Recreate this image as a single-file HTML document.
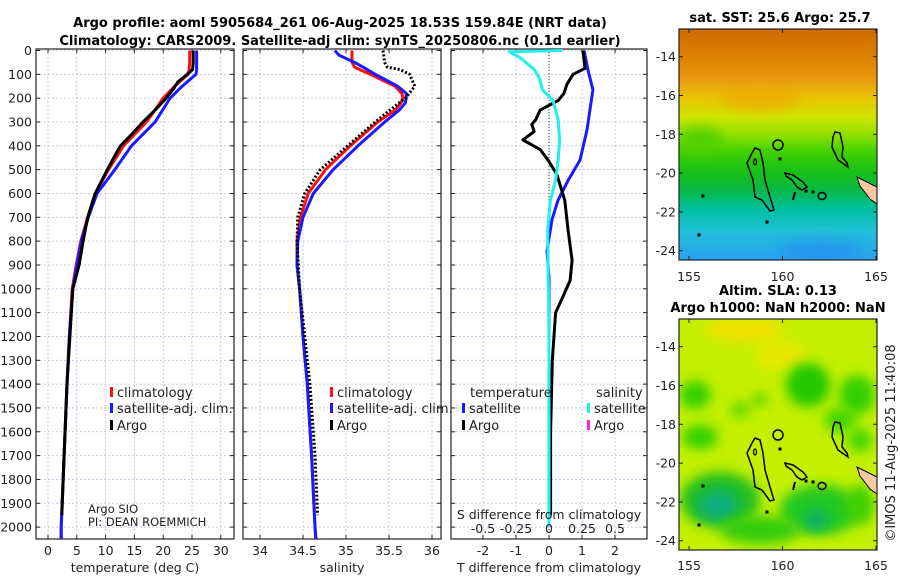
<!DOCTYPE html>
<html><head><meta charset="utf-8"><style>
body{margin:0;background:#fff;width:900px;height:580px;overflow:hidden}
svg{display:block}
text{font-family:"DejaVu Sans","Liberation Sans",sans-serif;fill:#222}
.t{font-weight:bold;font-size:13px;fill:#000}
.tk{font-size:12.5px}
.lg{font-size:13px}
</style></head><body>
<svg id="c" width="900" height="580" viewBox="0 0 900 580">
<defs>
<linearGradient id="sstg" x1="0" y1="0" x2="0" y2="1">
<stop offset="0" stop-color="#cf6a00"/><stop offset="0.12" stop-color="#de8000"/>
<stop offset="0.22" stop-color="#e89a10"/><stop offset="0.30" stop-color="#e8c400"/>
<stop offset="0.38" stop-color="#d0e400"/><stop offset="0.46" stop-color="#90e000"/>
<stop offset="0.53" stop-color="#40d000"/><stop offset="0.62" stop-color="#18c018"/>
<stop offset="0.70" stop-color="#08b848"/><stop offset="0.78" stop-color="#00c0a0"/>
<stop offset="0.87" stop-color="#20c0d8"/><stop offset="1" stop-color="#2aa0f0"/>
</linearGradient>
<filter id="bl" x="-50%" y="-50%" width="200%" height="200%"><feGaussianBlur stdDeviation="6"/></filter>
<clipPath id="m1c"><rect x="679" y="29" width="198" height="231"/></clipPath>
<clipPath id="m2c"><rect x="679" y="319" width="198" height="231"/></clipPath>
</defs>
<text class="t" x="340" y="27" text-anchor="middle">Argo profile: aoml 5905684_261 06-Aug-2025 18.53S 159.84E (NRT data)</text>
<text class="t" x="340" y="45" text-anchor="middle">Climatology: CARS2009. Satellite-adj clim: synTS_20250806.nc (0.1d earlier)</text>
<g id="g"></g>
</svg>
<script>
// ---- profile data (depth in m) ----
const tempDepth = [0,50,80,100,150,200,300,400,500,600,700,800,900,1000,1200,1400,1700,2000,2050];
const tempClim  = [24.6,24.6,24.5,24.3,22.0,20.0,17.1,13.1,10.5,8.2,6.9,5.7,4.9,4.2,3.7,3.3,2.8,2.3,2.3];
const tempSat   = [25.8,25.8,25.8,25.7,23.3,21.2,18.6,14.5,11.6,8.5,7.0,5.8,5.0,4.3,3.7,3.3,2.8,2.3,2.3];
const argoDepth = [0,50,80,100,130,160,200,250,300,350,400,420,460,500,600,700,800,900,1000,1200,1400,1700,1950];
const argoTemp  = [25.2,25.2,25.1,24.2,22.6,21.8,20.5,18.6,16.5,14.6,12.6,12.1,11.2,10.3,8.2,6.9,6.1,5.4,4.3,3.8,3.3,2.8,2.4];
const salDepth  = [0,20,50,70,100,150,180,200,220,250,300,400,500,600,700,800,900,1000,1200,1400,1700,2000,2050];
const salClim   = [35.07,35.07,35.07,35.10,35.28,35.57,35.65,35.66,35.64,35.57,35.37,35.05,34.76,34.56,34.47,34.43,34.43,34.46,34.50,34.55,34.60,34.64,34.65];
const salSat    = [34.87,34.92,35.10,35.20,35.34,35.60,35.70,35.70,35.69,35.62,35.45,35.14,34.85,34.62,34.50,34.44,34.43,34.46,34.50,34.55,34.60,34.64,34.65];
const argoSDepth= [0,50,70,80,100,150,200,250,300,400,500,600,700,800,1000,1400,1700,1950];
const argoSal   = [35.43,35.45,35.48,35.63,35.74,35.80,35.69,35.51,35.34,35.02,34.70,34.52,34.44,34.43,34.46,34.58,34.64,34.67];
const dDepthT   = [0,80,165,333,460,545,630,710,840,950,1200,1600,2000];
const dTsat     = [1.06,1.18,1.33,1.15,0.94,0.58,0.27,0.09,-0.06,0,0,0,0];
const dDepthA   = [0,75,100,140,180,210,250,290,310,340,375,415,460,520,630,755,880,965,1040,1100,1300,1600,1950];
const dTargo    = [1.03,1.09,0.73,0.55,0.45,0.28,-0.27,-0.40,-0.52,-0.45,-0.79,-0.27,-0.03,0.24,0.48,0.58,0.70,0.64,0.40,0.20,0.10,0.05,0.05];
const dDepthS   = [0,5,30,80,120,165,210,290,375,460,545,630,760,1200,2000];
const dSsat     = [0.10,-0.30,-0.22,-0.11,-0.07,-0.05,0.03,0.07,0.08,0.07,0.05,0.01,-0.01,0,0];
const tempTicks = [0,5,10,15,20,25,30];
const salTicks  = [34,34.5,35,35.5,36];
const dTTicks   = [-2,-1,0,1,2];
const dSTicks   = [-0.5,-0.25,0,0.25,0.5];
const depthTicks= [0,100,200,300,400,500,600,700,800,900,1000,1100,1200,1300,1400,1500,1600,1700,1800,1900,2000];
const lonTicks  = [155,160,165];
const latTicks  = [-14,-16,-18,-20,-22,-24];

const NS='http://www.w3.org/2000/svg';
const G=document.getElementById('g');
function el(tag,attrs,parent){const e=document.createElementNS(NS,tag);for(const k in attrs)e.setAttribute(k,attrs[k]);(parent||G).appendChild(e);return e;}
function txt(x,y,s,cls,anchor){const t=el('text',{x:x,y:y,'class':cls||'tk','text-anchor':anchor||'middle'});t.textContent=s;return t;}
const TOP=49,BOT=539;
const depthY=d=>50.5+d*0.2383;
const tempX=t=>48+t*5.76;
const salX=s=>260+(s-34)*86;
const dTX=d=>549+d*33;
const dSX=d=>549+d*132;
const lonX1=l=>689+(l-155)*18.7;
const latY1=l=>56.7+(-14-l)*19.4;
const latY2=l=>346.7+(-14-l)*19.4;

function panel(x0,x1,name){
  const gr=el('g',{});
  
  
  depthTicks.forEach(d=>{const y=depthY(d);
    el('line',{x1:x0,x2:x1,y1:y,y2:y,stroke:'#b8c0dc','stroke-width':0.8,'stroke-dasharray':'2 2'},gr);
    el('line',{x1:x0,x2:x0+4,y1:y,y2:y,stroke:'#222'},gr);
    el('line',{x1:x1-4,x2:x1,y1:y,y2:y,stroke:'#222'},gr);});
  return gr;
}
function vgrid(gr,xs,x0){xs.forEach(x=>{
  el('line',{x1:x,x2:x,y1:TOP,y2:BOT,stroke:'#b8c0dc','stroke-width':0.8,'stroke-dasharray':'2 2'},gr);
  el('line',{x1:x,x2:x,y1:TOP,y2:TOP+4,stroke:'#222'},gr);
  el('line',{x1:x,x2:x,y1:BOT-4,y2:BOT,stroke:'#222'},gr);});}
function frame(gr,x0,x1){el('rect',{x:x0,y:TOP,width:x1-x0,height:BOT-TOP,fill:'none',stroke:'#222','stroke-width':1.2},gr);}
function line(xs,ys,fx,color,w,name,dash){
  const pts=xs.map((v,i)=>fx(v).toFixed(1)+','+depthY(ys[i]).toFixed(1)).join(' ');
  const p=el('polyline',{points:pts,fill:'none',stroke:color,'stroke-width':w,'stroke-linejoin':'round'});
  if(dash)p.setAttribute('stroke-dasharray',dash);
  
  
  return p;
}
function legendItem(x,y,color,label,name){
  const g=el('g',{});
  
  
  el('rect',{x:x,y:y-10,width:3,height:10,fill:color},g);
  const t=el('text',{x:x+7,y:y,'class':'lg'},g);t.textContent=label;
}
// Panel 1 temperature
const p1=panel(36,234,'temperature-panel');
vgrid(p1,tempTicks.map(tempX));
depthTicks.forEach(d=>{const t=txt(32,depthY(d)+4.5,String(d),'tk','end');
  });
tempTicks.forEach(v=>txt(tempX(v),555,String(v)));
txt(135,572,'temperature (deg C)');
line(tempClim,tempDepth,tempX,'#ff1010',3,'temp-climatology-line');
line(tempSat,tempDepth,tempX,'#1a1aff',3,'temp-satellite-line');
line(argoTemp,argoDepth,tempX,'#000',3,'temp-argo-line');
frame(p1,36,234);
legendItem(110,397,'#ff1010','climatology','legend-climatology');
legendItem(110,413,'#1a1aff','satellite-adj. clim.','legend-satellite-adj');
legendItem(110,430,'#000','Argo','legend-argo');
txt(88,513,'Argo SIO','lg','start').setAttribute('style','font-size:11.5px');
txt(88,526,'PI: DEAN ROEMMICH','lg','start').setAttribute('style','font-size:11.5px');
// Panel 2 salinity
const p2=panel(243,441,'salinity-panel');
vgrid(p2,salTicks.map(salX));
salTicks.forEach(v=>txt(salX(v),555,String(v)));
txt(342,572,'salinity');
line(salClim,salDepth,salX,'#ff1010',3,'sal-climatology-line');
line(salSat,salDepth,salX,'#1a1aff',3,'sal-satellite-line');
line(argoSal,argoSDepth,salX,'#000',3,'sal-argo-line','2 2');
frame(p2,243,441);
legendItem(330,397,'#ff1010','climatology','legend-climatology-2');
legendItem(330,413,'#1a1aff','satellite-adj. clim.','legend-satellite-adj-2');
legendItem(330,430,'#000','Argo','legend-argo-2');
// Panel 3 differences
const p3=panel(451,647,'difference-panel');
vgrid(p3,dTTicks.map(dTX));
el('line',{x1:549,x2:549,y1:TOP,y2:BOT,stroke:'#333','stroke-width':1,'stroke-dasharray':'1 2'},p3);
dTTicks.forEach(v=>txt(dTX(v),555,String(v)));
txt(549,572,'T difference from climatology');
line(dTsat,dDepthT,dTX,'#1a1aff',3,'t-diff-satellite-line');
line(dTargo,dDepthA,dTX,'#000',3,'t-diff-argo-line');
line(dSsat,dDepthS,dSX,'#22eeee',3,'s-diff-satellite-line');
frame(p3,451,647);
txt(549,519,'S difference from climatology');
dSTicks.forEach(v=>txt(dSX(v),533,String(v)));
txt(470,397,'temperature','lg','start');
txt(596,397,'salinity','lg','start');
legendItem(462,413,'#1a1aff','satellite','legend-t-satellite');
legendItem(462,430,'#000','Argo','legend-t-argo');
legendItem(587,413,'#22eeee','satellite','legend-s-satellite');
legendItem(587,430,'#ff22ee','Argo','legend-s-argo');

// Maps
function coast(g,dy){
  const polys=[
   [[755,148],[760,150],[763,163],[765,180],[770,197],[774,210],[770,211],[762,200],[755,197],[753,180],[747,163],[752,153]],
   [[785,173],[793,175],[803,182],[807,187],[802,190],[797,187],[792,180],[786,176]],
   [[835,132],[840,133],[843,147],[842,157],[847,163],[848,167],[838,160],[832,147],[833,137]]];
  polys.forEach(p=>el('polygon',{points:p.map(q=>q[0]+','+(q[1]+dy)).join(' '),fill:'none',stroke:'#000','stroke-width':1.5},g));
  el('polygon',{points:`857,${177+dy} 877,${187+dy} 877,${204+dy} 870,${199+dy} 860,${186+dy}`,fill:'#f8c8a0',stroke:'#000','stroke-width':1},g);
  el('circle',{cx:778,cy:145+dy,r:5,fill:'none',stroke:'#000','stroke-width':1.5},g);
  el('ellipse',{cx:822,cy:196+dy,rx:4,ry:3.5,fill:'none',stroke:'#000','stroke-width':1.5},g);
  el('ellipse',{cx:755,cy:162+dy,rx:1.5,ry:3,fill:'none',stroke:'#000','stroke-width':1.2},g);
  el('line',{x1:795,y1:192+dy,x2:793,y2:200+dy,stroke:'#000','stroke-width':2},g);
  [[703,196],[699,235],[767,222],[780,159],[806,191],[813,192]].forEach(q=>el('rect',{x:q[0]-1.5,y:q[1]+dy-1.5,width:3,height:3,fill:'#000'},g));
}
function mapAxes(g,top,latY,labelY){
  el('rect',{x:679,y:top,width:198,height:231,fill:'none',stroke:'#222','stroke-width':1.2},g);
  lonTicks.forEach(l=>{const x=lonX1(l);
    el('line',{x1:x,x2:x,y1:top,y2:top+4,stroke:'#222'},g);
    el('line',{x1:x,x2:x,y1:top+231-4,y2:top+231,stroke:'#222'},g);
    txt(x,labelY,String(l));});
  latTicks.forEach(l=>{const y=latY(l);
    el('line',{x1:679,x2:683,y1:y,y2:y,stroke:'#222'},g);
    el('line',{x1:873,x2:877,y1:y,y2:y,stroke:'#222'},g);
    txt(676,y+4.5,String(l),'tk','end');});
}
const m1=el('g',{});


const m1i=el('g',{'clip-path':'url(#m1c)'},m1);
el('rect',{x:679,y:29,width:198,height:231,fill:'url(#sstg)'},m1i);
el('ellipse',{cx:700,cy:140,rx:22,ry:12,fill:'#50d000',filter:'url(#bl)'},m1i);
el('ellipse',{cx:760,cy:100,rx:40,ry:10,fill:'#f0a000',opacity:0.6,filter:'url(#bl)'},m1i);
el('ellipse',{cx:820,cy:250,rx:40,ry:10,fill:'#2090f0',opacity:0.7,filter:'url(#bl)'},m1i);
coast(m1i,0);
mapAxes(m1,29,latY1,281);
txt(780,22,'sat. SST: 25.6 Argo: 25.7','t');

const m2=el('g',{});


const m2i=el('g',{'clip-path':'url(#m2c)'},m2);
el('rect',{x:679,y:319,width:198,height:231,fill:'#c4f000'},m2i);
[[745,330,40,12,'#f0e000'],[780,355,25,14,'#e8e800'],[695,395,16,14,'#30d000'],[808,385,22,22,'#20c800'],
 [857,395,18,20,'#30d000'],[700,437,18,12,'#30d000'],[840,420,16,12,'#40d400'],[860,440,12,12,'#40d400'],
 [720,500,40,28,'#20c020'],[718,505,20,15,'#10b080'],[820,510,40,25,'#20c820'],[816,520,12,10,'#10b070'],
 [760,530,40,14,'#30cc10'],[860,505,14,20,'#40d000'],[740,410,10,8,'#60d800'],[760,400,8,6,'#50d000']].forEach(b=>
  el('ellipse',{cx:b[0],cy:b[1],rx:b[2],ry:b[3],fill:b[4],filter:'url(#bl)'},m2i));
coast(m2i,290);
mapAxes(m2,319,latY2,570);
txt(778,295,'Altim. SLA: 0.13','t');
txt(778,312,'Argo h1000: NaN h2000: NaN','t');
const cr=txt(895,443,'©IMOS 11-Aug-2025 11:40:08','tk');
cr.setAttribute('transform','rotate(-90 895 443)');
cr.setAttribute('style','font-size:13px');


</script>
</body></html>
